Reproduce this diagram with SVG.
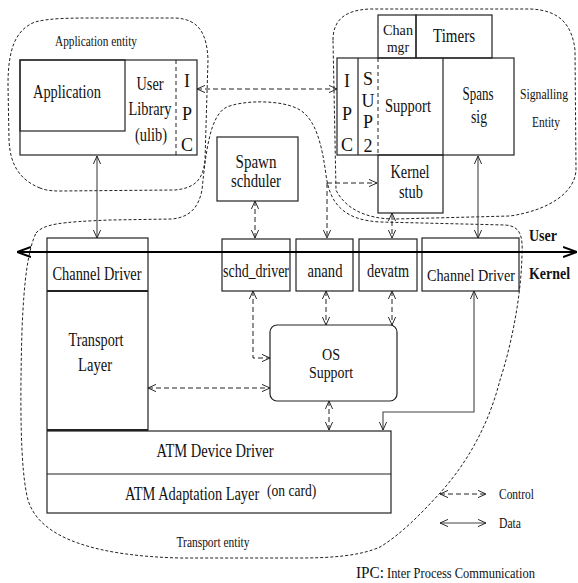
<svg xmlns="http://www.w3.org/2000/svg" width="578" height="583" viewBox="0 0 578 583">
<style>
text{font-family:"Liberation Serif","Times New Roman",serif;fill:#111}
.t18{font-size:18px}
.t16{font-size:16px}
.t15{font-size:15px}
.t14{font-size:14px}
.b{font-weight:bold;font-size:16px}
.box{fill:none;stroke:#222;stroke-width:1.2}
.blob{fill:none;stroke:#222;stroke-width:1;stroke-dasharray:3 2}
.ctl{fill:none;stroke:#222;stroke-width:1;stroke-dasharray:5 3;marker-start:url(#h);marker-end:url(#h)}
.ctl1{fill:none;stroke:#222;stroke-width:1;stroke-dasharray:5 3;marker-end:url(#h)}
.dat{fill:none;stroke:#444;stroke-width:1.1;marker-start:url(#h);marker-end:url(#h)}
</style>
<defs>
<marker id="h" viewBox="0 0 10 10" refX="10" refY="5" markerWidth="8" markerHeight="8" markerUnits="userSpaceOnUse" orient="auto-start-reverse">
<path d="M0,0.5 L10,5 L0,9.5" fill="none" stroke="#222" stroke-width="1.2"/>
</marker>
<marker id="H" viewBox="0 0 14 12" refX="14" refY="6" markerWidth="14" markerHeight="12" markerUnits="userSpaceOnUse" orient="auto-start-reverse">
<path d="M0,1 L14,6 L0,11" fill="none" stroke="#000" stroke-width="2"/>
</marker>
</defs>
<rect width="578" height="583" fill="#fff"/>

<g id="entities">
<path class="blob" d="M40,188 C20,180 10,165 9,140 L8,85 C8,50 15,30 35,22 C50,18 70,18 100,18 L175,18 C200,19 207,35 208,60 L205,160 C203,180 195,188 175,190 L60,191 C50,191 45,190 40,188 Z"/>
<path class="blob" d="M333,40 C333,20 345,10 370,9 L530,9 C560,10 572,25 575,50 L576,170 C575,192 550,210 510,216 L395,219 C365,219 345,208 336,190 Z"/>
<path class="blob" d="M36,233 C44,224 60,222 110,220 L172,219 C192,217 199,205 202,190 C206,150 210,118 225,108 C240,100 282,99 300,110 C316,120 322,145 326,175 C330,205 345,220 380,222 L505,225 C520,226 523,235 522,255 C521,300 510,350 500,380 C490,420 470,460 440,493 C420,515 400,535 380,547 C360,556 330,558 300,558 L180,558 C100,556 40,540 28,500 C20,470 20,400 22,330 C24,280 28,250 36,233 Z"/>
<text class="t14" x="96" y="46" text-anchor="middle" textLength="82" lengthAdjust="spacingAndGlyphs">Application entity</text>
<text class="t14" x="544" y="99" text-anchor="middle" textLength="48" lengthAdjust="spacingAndGlyphs">Signalling</text>
<text class="t14" x="546" y="127" text-anchor="middle" textLength="28" lengthAdjust="spacingAndGlyphs">Entity</text>
<text class="t14" x="213" y="547" text-anchor="middle" textLength="73" lengthAdjust="spacingAndGlyphs">Transport entity</text>
</g>

<g id="app">
<rect class="box" x="20" y="60" width="177" height="95"/>
<rect class="box" x="20" y="60" width="105" height="71"/>
<line x1="176" y1="60" x2="176" y2="155" stroke="#222" stroke-dasharray="4 3"/>
<text class="t18" x="67" y="98" text-anchor="middle" textLength="68" lengthAdjust="spacingAndGlyphs">Application</text>
<text class="t18" x="150" y="90" text-anchor="middle" textLength="27" lengthAdjust="spacingAndGlyphs">User</text>
<text class="t18" x="150" y="115" text-anchor="middle" textLength="43" lengthAdjust="spacingAndGlyphs">Library</text>
<text class="t18" x="151" y="141" text-anchor="middle" textLength="32" lengthAdjust="spacingAndGlyphs">(ulib)</text>
<text class="t18" x="187" y="87" text-anchor="middle">I</text>
<text class="t18" x="187" y="120" text-anchor="middle">P</text>
<text class="t18" x="187" y="151" text-anchor="middle">C</text>
</g>

<g id="signalling">
<rect class="box" x="378" y="15" width="38" height="43"/>
<rect class="box" x="416" y="15" width="76" height="43"/>
<rect class="box" x="337" y="58" width="177" height="97"/>
<line x1="358" y1="58" x2="358" y2="155" stroke="#222" stroke-width="1.2"/>
<line x1="378" y1="58" x2="378" y2="155" stroke="#222" stroke-dasharray="4 3"/>
<line x1="443" y1="58" x2="443" y2="155" stroke="#222" stroke-width="1.2"/>
<text class="t15" x="398" y="35" text-anchor="middle" textLength="30" lengthAdjust="spacingAndGlyphs">Chan</text>
<text class="t15" x="398" y="52" text-anchor="middle" textLength="22" lengthAdjust="spacingAndGlyphs">mgr</text>
<text class="t18" x="454" y="42" text-anchor="middle" textLength="42" lengthAdjust="spacingAndGlyphs">Timers</text>
<text class="t18" x="347" y="87" text-anchor="middle">I</text>
<text class="t18" x="347" y="120" text-anchor="middle">P</text>
<text class="t18" x="347" y="151" text-anchor="middle">C</text>
<text class="t18" x="368" y="85" text-anchor="middle">S</text>
<text class="t18" x="368" y="107" text-anchor="middle">U</text>
<text class="t18" x="368" y="128" text-anchor="middle">P</text>
<text class="t18" x="368" y="152" text-anchor="middle">2</text>
<text class="t18" x="408" y="112" text-anchor="middle" textLength="46" lengthAdjust="spacingAndGlyphs">Support</text>
<text class="t18" x="478" y="100" text-anchor="middle" textLength="31" lengthAdjust="spacingAndGlyphs">Spans</text>
<text class="t18" x="479" y="123" text-anchor="middle" textLength="16" lengthAdjust="spacingAndGlyphs">sig</text>
</g>

<g id="kernelstub">
<rect class="box" x="378" y="155" width="65" height="58"/>
<text class="t18" x="410" y="178" text-anchor="middle" textLength="39" lengthAdjust="spacingAndGlyphs">Kernel</text>
<text class="t18" x="411" y="198" text-anchor="middle" textLength="24" lengthAdjust="spacingAndGlyphs">stub</text>
</g>

<g id="spawn">
<rect class="box" x="217" y="137" width="81" height="64"/>
<text class="t18" x="256" y="168" text-anchor="middle" textLength="41" lengthAdjust="spacingAndGlyphs">Spawn</text>
<text class="t18" x="256" y="187" text-anchor="middle" textLength="50" lengthAdjust="spacingAndGlyphs">schduler</text>
</g>

<g id="chdrv-left">
<rect class="box" x="47" y="238" width="101" height="192"/>
<line x1="47" y1="291" x2="148" y2="291" stroke="#222" stroke-width="2"/>
<text class="t18" x="97" y="280" text-anchor="middle" textLength="89" lengthAdjust="spacingAndGlyphs">Channel Driver</text>
<text class="t18" x="96" y="346" text-anchor="middle" textLength="55" lengthAdjust="spacingAndGlyphs">Transport</text>
<text class="t18" x="95" y="371" text-anchor="middle" textLength="34" lengthAdjust="spacingAndGlyphs">Layer</text>
</g>

<g id="schd">
<rect class="box" x="222" y="239" width="68" height="52"/>
<text class="t18" x="256" y="277" text-anchor="middle" textLength="66" lengthAdjust="spacingAndGlyphs">schd_driver</text>
</g>
<g id="anand">
<rect class="box" x="296" y="239" width="57" height="52"/>
<text class="t18" x="325" y="277" text-anchor="middle" textLength="35" lengthAdjust="spacingAndGlyphs">anand</text>
</g>
<g id="devatm">
<rect class="box" x="359" y="239" width="58" height="52"/>
<text class="t18" x="388" y="277" text-anchor="middle" textLength="42" lengthAdjust="spacingAndGlyphs">devatm</text>
</g>
<g id="chdrv-right">
<rect class="box" x="422" y="238" width="97" height="53"/>
<text class="t16" x="471" y="281" text-anchor="middle" textLength="88" lengthAdjust="spacingAndGlyphs">Channel Driver</text>
</g>

<g id="os">
<rect class="box" x="270" y="325" width="127" height="76" rx="7"/>
<text class="t16" x="331" y="360" text-anchor="middle" textLength="18" lengthAdjust="spacingAndGlyphs">OS</text>
<text class="t16" x="331" y="378" text-anchor="middle" textLength="44" lengthAdjust="spacingAndGlyphs">Support</text>
</g>

<g id="atm">
<rect class="box" x="47" y="431" width="344" height="82"/>
<line x1="47" y1="474" x2="391" y2="474" stroke="#222" stroke-width="1.2"/>
<line x1="47" y1="430" x2="148" y2="430" stroke="#222" stroke-width="2"/>
<text class="t18" x="215" y="457" text-anchor="middle" textLength="117" lengthAdjust="spacingAndGlyphs">ATM Device Driver</text>
<text class="t18" transform="translate(125,500) scale(0.8,1)" x="0" y="0">ATM Adaptation Layer</text>
<text transform="translate(267,496) scale(0.85,1)" x="0" y="0" style="font-size:16px">(on card)</text>
</g>

<g id="userkernel">
<text class="b" x="529" y="241" textLength="28" lengthAdjust="spacingAndGlyphs">User</text>
<text class="b" x="529" y="279" textLength="41" lengthAdjust="spacingAndGlyphs">Kernel</text>
</g>

<g id="connectors">
<path d="M17,252 H577" fill="none" stroke="#000" stroke-width="2" marker-start="url(#H)" marker-end="url(#H)"/>
<path class="ctl" d="M197,89 H337"/>
<path class="dat" d="M97,156 V238"/>
<path class="dat" d="M478,156 V238"/>
<path class="ctl" d="M255,201 V238"/>
<path class="ctl" d="M392,213 V238"/>
<path class="ctl1" d="M327,183 H377"/>
<path class="ctl1" d="M327,183 V238"/>
<path class="ctl" d="M253,291 V358 H270"/>
<path class="ctl" d="M326,291 V325"/>
<path class="ctl" d="M392,291 V325"/>
<path class="ctl" d="M148,388 H270"/>
<path class="ctl" d="M329,401 V430"/>
<path class="dat" d="M474,291 V412 H383 V430"/>
</g>

<g id="legend">
<path class="ctl" d="M440,494 H486"/>
<path class="dat" d="M440,523 H486"/>
<text class="t14" x="499" y="499" textLength="35" lengthAdjust="spacingAndGlyphs">Control</text>
<text class="t14" x="499" y="528" textLength="22" lengthAdjust="spacingAndGlyphs">Data</text>
<text x="356" y="578" style="font-size:16px" textLength="28" lengthAdjust="spacingAndGlyphs">IPC:</text>
<text class="t14" x="387" y="578" textLength="148" lengthAdjust="spacingAndGlyphs">Inter Process Communication</text>
</g>
</svg>
